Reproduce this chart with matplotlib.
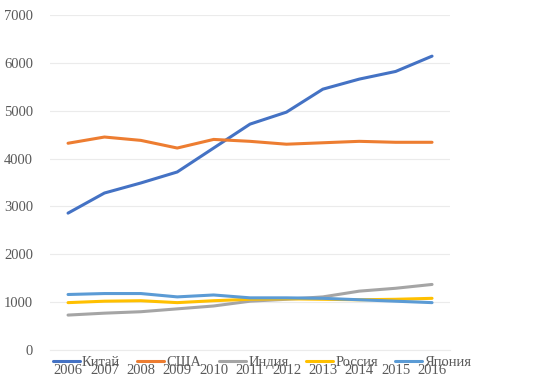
import matplotlib
matplotlib.use('Agg')
import matplotlib.pyplot as plt

plt.rcParams['font.family'] = ['Liberation Serif', 'DejaVu Serif']

years = ['2006', '2007', '2008', '2009', '2010', '2011', '2012', '2013', '2014', '2015', '2016']
china = [2860, 3280, 3490, 3720, 4220, 4720, 4970, 5450, 5660, 5820, 6140]
usa = [4320, 4450, 4380, 4220, 4400, 4360, 4300, 4330, 4360, 4340, 4340]
india = [730, 770, 800, 860, 920, 1020, 1060, 1110, 1230, 1290, 1370]
russia = [990, 1020, 1030, 990, 1030, 1060, 1070, 1060, 1050, 1060, 1080]
japan = [1160, 1180, 1180, 1110, 1150, 1090, 1090, 1080, 1050, 1020, 990]

series = [('Китай', china, '#4472C4'), ('США', usa, '#ED7D31'),
          ('Индия', india, '#A5A5A5'), ('Россия', russia, '#FFC000'),
          ('Япония', japan, '#5B9BD5')]

fig = plt.figure(figsize=(5.6, 3.84), dpi=100)
ax = fig.add_axes([0.089, 0.0885, 0.715, 0.8725])

x = list(range(len(years)))
for name, vals, col in series:
    ax.plot(x, vals, color=col, lw=2.2, label=name, solid_capstyle='round')

ax.set_xlim(-0.5, len(years) - 0.5)
ax.set_ylim(0, 7000)
ax.set_yticks(range(0, 7001, 1000))
ax.set_xticks(x)
ax.set_xticklabels(years)
ax.grid(axis='y', color='#EBEBEB', lw=0.8)
ax.set_axisbelow(True)
for s in ax.spines.values():
    s.set_visible(False)
ax.spines['bottom'].set_visible(True)
ax.spines['bottom'].set_color('#EBEBEB')
ax.tick_params(length=0, labelsize=10.5, labelcolor='#595959')
ax.tick_params(axis='y', pad=12)
ax.tick_params(axis='x', pad=10)

fig.legend(loc='center', bbox_to_anchor=(262 / 560, 1 - 362 / 384), ncol=5,
           frameon=False, fontsize=10.5, handlelength=1.85, columnspacing=1.2,
           handletextpad=0.15, labelcolor='#595959')

fig.savefig('out.png', dpi=100)
